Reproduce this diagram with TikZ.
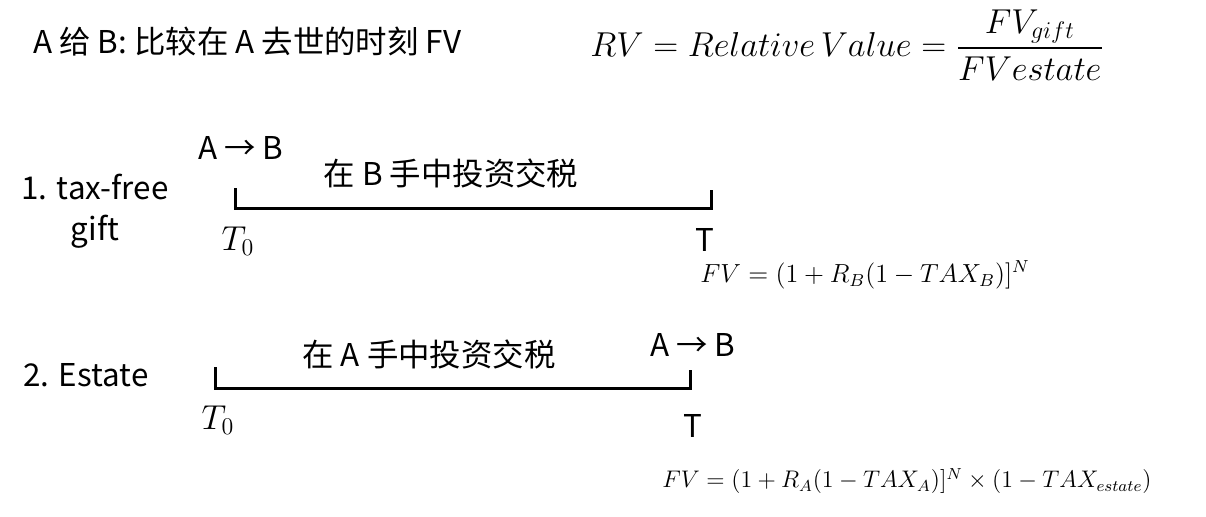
\documentclass[tikz,border=0pt]{standalone}
\usepackage{amsmath}
\usepackage{graphicx}
\usepackage{fontspec}
\setmainfont{Noto Sans CJK SC}
\usetikzlibrary{positioning}

\begin{document}
\begin{tikzpicture}[x=0.5pt, y=-0.5pt, inner sep=0pt,
    font=\fontsize{15.7}{20.5}\selectfont,
    bar/.style={line width=1.5pt},
    bigmath/.style={font=\fontsize{17.28}{20}\selectfont},
    smallmath/.style={font=\fontsize{12}{14}\selectfont}]
  \useasboundingbox (0,0) rectangle (1206,516);
  % header
  \node[anchor=west] (title) at (33,42) {A 给 B: 比较在 A 去世的时刻 FV};
  \node[anchor=west, bigmath] (rv) at (590,45) {$RV = Relative\,Value = \dfrac{FV_{gift}}{FVestate}$};

  % 1. gift
  \node[align=center] (case1) at (95,211) {1. tax-free\\gift};
  \node (ab1) at (241,148) {A → B};
  \node (inv1) at (451,173) {在 B 手中投资交税};
  \coordinate (g1) at (235,188);
  \coordinate (g2) at (235,208);
  \coordinate (g3) at (711,208);
  \coordinate (g4) at (711,190);
  \draw[bar] (g1) -- (g2) -- (g3) -- (g4);
  \node[bigmath] (t0g) at (238,241) {$T_0$};
  \node (tg) at (705,240) {T};
  \node[anchor=west, smallmath] (fvg) at (700,275) {\scalebox{1.09}{$FV = (1 + R_B(1 - TAX_B)]^N$}};

  % 2. estate
  \node[anchor=west] (case2) at (23,375) {2. Estate};
  \node (inv2) at (429,354) {在 A 手中投资交税};
  \node (ab2) at (693,345) {A → B};
  \coordinate (e1) at (215,367);
  \coordinate (e2) at (215,388);
  \coordinate (e3) at (690,388);
  \coordinate (e4) at (690,370);
  \draw[bar] (e1) -- (e2) -- (e3) -- (e4);
  \node[bigmath] (t0e) at (218,420) {$T_0$};
  \node (te) at (693,426) {T};
  \node[anchor=west, smallmath] (fve) at (662,481) {$FV = (1 + R_A(1 - TAX_A)]^N \times (1 - TAX_{estate})$};
\end{tikzpicture}
\end{document}
